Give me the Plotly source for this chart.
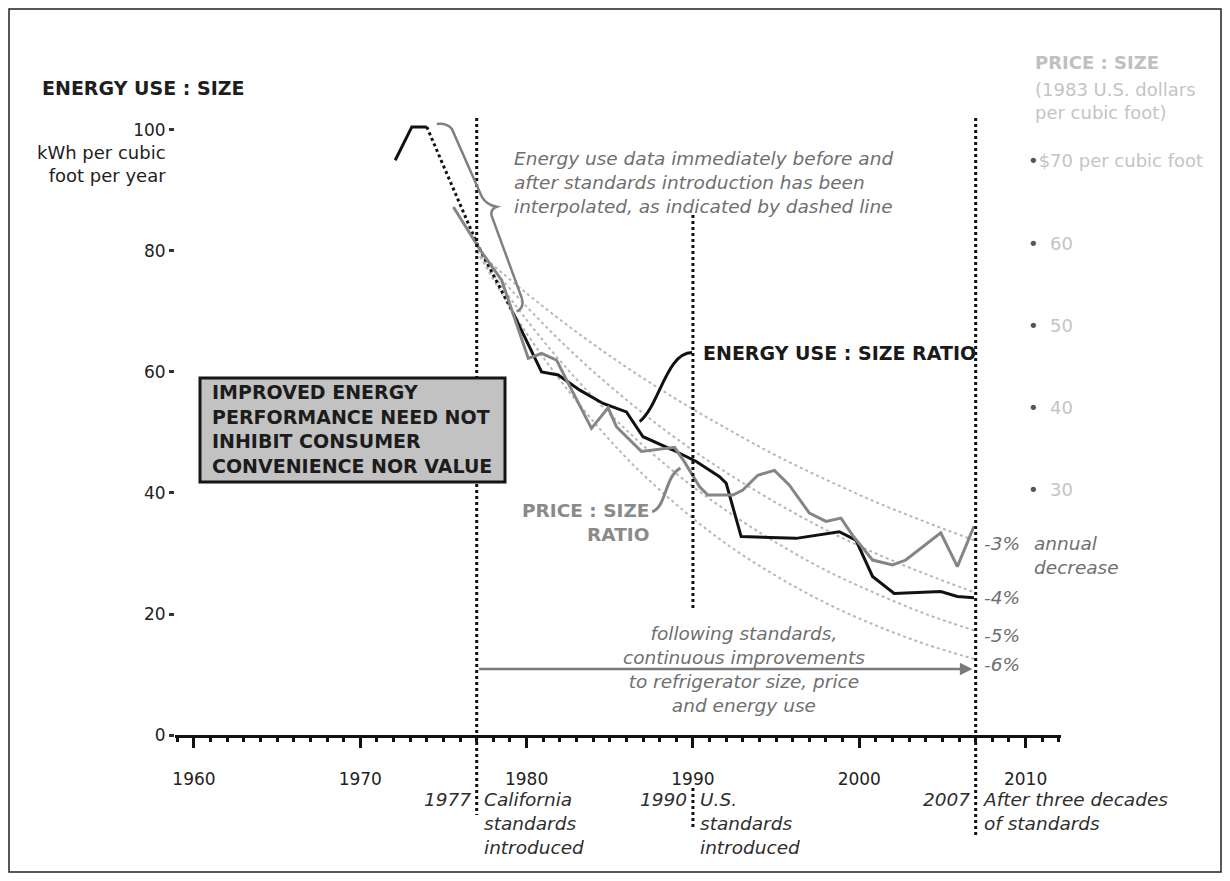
import plotly.graph_objects as go

# ---------------- data ----------------
energy_early_years = [1972.1, 1973.1, 1974.0]
energy_early_values = [95.0, 100.5, 100.5]

energy_interp_years = [1974.0, 1975.5, 1977.0, 1979.2]
energy_interp_values = [100.5, 91.0, 81.3, 69.7]

energy_years = [1979.2, 1980.9, 1981.9, 1983.2, 1984.6, 1986.0, 1987.0, 1988.8,
                1990.2, 1991.6, 1992.0, 1992.9, 1996.2, 1998.8, 1999.8, 2000.8,
                2002.1, 2004.9, 2005.9, 2006.9]
energy_values = [69.7, 60.0, 59.5, 57.0, 54.8, 53.4, 49.3, 47.1,
                 45.2, 42.7, 41.6, 32.8, 32.5, 33.6, 32.2, 26.2,
                 23.4, 23.7, 22.9, 22.7]

price_years = [1975.6, 1977.2, 1978.5, 1980.1, 1980.9, 1981.8, 1982.5, 1983.9,
               1984.9, 1985.4, 1986.9, 1987.8, 1988.9, 1989.5, 1990.4, 1990.9,
               1992.4, 1993.0, 1993.9, 1994.9, 1995.8, 1997.0, 1998.0, 1998.9,
               1999.6, 2000.8, 2002.0, 2002.8, 2004.9, 2005.9, 2006.9]
price_values = [64.4, 59.2, 55.5, 46.0, 46.6, 45.8, 43.0, 37.5,
                40.0, 37.7, 34.7, 34.9, 35.2, 33.4, 30.4, 29.4,
                29.4, 30.0, 31.8, 32.4, 30.6, 27.2, 26.2, 26.6,
                24.5, 21.5, 20.9, 21.5, 24.8, 20.7, 25.6]

trend_years = [1977, 1980, 1983, 1986, 1989, 1992, 1995, 1998, 2001, 2004, 2007]
trend_3pct = [80, 73.0, 66.6, 60.8, 55.5, 50.7, 46.2, 42.2, 38.5, 35.2, 32.1]
trend_4pct = [80, 70.8, 62.6, 55.4, 49.0, 43.4, 38.4, 33.9, 30.0, 26.6, 23.5]
trend_5pct = [80, 68.6, 58.8, 50.4, 43.2, 37.1, 31.8, 27.2, 23.4, 20.0, 17.2]
trend_6pct = [80, 66.4, 55.2, 45.8, 38.1, 31.6, 26.3, 21.8, 18.1, 15.0, 12.5]
trend_labels = ["-3%", "-4%", "-5%", "-6%"]
trend_label_values = [31.7, 22.8, 16.5, 11.6]

x_tick_years = [1960, 1970, 1980, 1990, 2000, 2010]
energy_ticks = [0, 20, 40, 60, 80, 100]
price_ticks = [30, 40, 50, 60, 70]
price_tick_labels = ["  30", "  40", "  50", "  60", "$70 per cubic foot"]

standard_years = [1977, 1990, 2007]

# ---------------- layout helpers ----------------
FONT = "DejaVu Sans"
OFF = 8                      # page body margin
FIG_W, FIG_H = 1230 - 2 * OFF, 881 - 2 * OFF
L, R, T, B = 175, 1061, 80, 735   # plot area in screenshot pixels


def px(p):
    return (p - L) / (R - L)


def py(p):
    return (B - p) / (B - T)


fig = go.Figure()

trend_sets = [trend_3pct, trend_4pct, trend_5pct, trend_6pct]
for vals in trend_sets:
    fig.add_trace(go.Scatter(x=trend_years, y=vals, mode="lines",
                             line=dict(color="#b8b8b8", width=2, dash="dot", shape="spline"),
                             hoverinfo="skip", showlegend=False))

fig.add_trace(go.Scatter(x=price_years, y=price_values, yaxis="y2", mode="lines",
                         line=dict(color="#858585", width=3), showlegend=False))

fig.add_trace(go.Scatter(x=energy_early_years, y=energy_early_values, mode="lines",
                         line=dict(color="#111111", width=3), showlegend=False))
fig.add_trace(go.Scatter(x=energy_interp_years, y=energy_interp_values, mode="lines",
                         line=dict(color="#111111", width=3, dash="dot"), showlegend=False))
fig.add_trace(go.Scatter(x=energy_years, y=energy_values, mode="lines",
                         line=dict(color="#111111", width=3), showlegend=False))

shapes = []
# vertical dotted lines for standards
seg = {1977: [(118, 815)], 1990: [(215, 610), (788, 830)], 2007: [(118, 835)]}
for yr in standard_years:
    for a, b in seg[yr]:
        shapes.append(dict(type="line", xref="x", yref="paper", x0=yr, x1=yr,
                           y0=py(a), y1=py(b), line=dict(color="#111111", width=3, dash="dot")))

# message box
shapes.append(dict(type="rect", xref="paper", yref="paper", x0=px(200), x1=px(505),
                   y0=py(482), y1=py(378), fillcolor="#c2c2c2",
                   line=dict(color="#151515", width=3)))

# curly brace for interpolated segment
shapes.append(dict(type="path", xref="x", yref="y",
                   path="M 1974.6,101.0 Q 1975.2,101.2 1975.5,100.2 L 1977.3,89.0 "
                        "Q 1977.6,87.6 1978.2,87.3 Q 1977.8,86.9 1977.9,85.8 "
                        "L 1979.7,72.3 Q 1979.9,70.6 1979.4,70.0",
                   line=dict(color="#808080", width=2.5)))
# callout energy
shapes.append(dict(type="path", xref="x", yref="y",
                   path="M 1986.8,51.8 C 1988.0,54.5 1988.4,63.2 1989.95,63.2",
                   line=dict(color="#111111", width=3)))
# callout price
shapes.append(dict(type="path", xref="x", yref="y",
                   path="M 1987.55,36.9 C 1988.4,37.6 1988.3,42.8 1989.25,44.1",
                   line=dict(color="#858585", width=3)))
# frame around the whole picture
shapes.append(dict(type="rect", xref="paper", yref="paper", x0=px(9), x1=px(1221),
                   y0=py(872), y1=py(9), line=dict(color="#222222", width=1.5)))

ann = []
ital = "#6f6f6f"
ann.append(dict(text="<b>ENERGY USE : SIZE</b>", xref="paper", yref="paper",
                x=px(40), y=py(88), xanchor="left", yanchor="middle",
                font=dict(size=19, color="#1e1e1e"), showarrow=False))
ann.append(dict(text="kWh per cubic<br>foot per year", xref="paper", yref="paper",
                x=px(168), y=py(140), xanchor="right", yanchor="top", align="right",
                font=dict(size=18, color="#1e1e1e"), showarrow=False))
ann.append(dict(text="<b>PRICE : SIZE</b>", xref="paper", yref="paper",
                x=px(1033), y=py(63), xanchor="left", yanchor="middle",
                font=dict(size=18, color="#c0c0c0"), showarrow=False))
ann.append(dict(text="(1983 U.S. dollars<br>per cubic foot)", xref="paper", yref="paper",
                x=px(1033), y=py(77), xanchor="left", yanchor="top", align="left",
                font=dict(size=18, color="#c4c4c4"), showarrow=False))
ann.append(dict(text="<i>Energy use data immediately before and<br>after standards introduction has been"
                     "<br>interpolated, as indicated by dashed line</i>",
                xref="paper", yref="paper", x=px(512), y=py(146), xanchor="left", yanchor="top",
                align="left", font=dict(size=18.5, color=ital), showarrow=False))
ann.append(dict(text="<b>ENERGY USE : SIZE RATIO</b>", xref="x", yref="y",
                x=1990.5, y=63.1, xanchor="left", yanchor="middle",
                font=dict(size=19, color="#1a1a1a"), showarrow=False))
ann.append(dict(text="<b>PRICE : SIZE<br>RATIO</b>", xref="x", yref="y",
                x=1987.45, y=35.2, xanchor="right", yanchor="middle", align="right",
                font=dict(size=18.5, color="#8a8a8a"), showarrow=False))
ann.append(dict(text="<b>IMPROVED ENERGY<br>PERFORMANCE NEED NOT<br>INHIBIT CONSUMER"
                     "<br>CONVENIENCE NOR VALUE</b>",
                xref="paper", yref="paper", x=px(210), y=py(429), xanchor="left",
                yanchor="middle", align="left", font=dict(size=19, color="#1c1c1c"),
                showarrow=False))
# arrow
ann.append(dict(text="", xref="x", yref="y", x=2006.8, y=10.9, ax=1977.05, ay=10.9,
                axref="x", ayref="y", showarrow=True, arrowhead=2, arrowsize=1,
                arrowwidth=2.5, arrowcolor="#7a7a7a"))
ann.append(dict(text="<i>following standards,<br>continuous improvements<br>"
                     "to refrigerator size, price<br>and energy use</i>",
                xref="x", yref="y", x=1993.1, y=10.9, xanchor="center", yanchor="middle",
                align="center", font=dict(size=18.5, color=ital), showarrow=False))
for lab, v in zip(trend_labels, trend_label_values):
    ann.append(dict(text="<i>" + lab + "</i>", xref="x", yref="y", x=2007, y=v,
                    xanchor="left", yanchor="middle", xshift=6,
                    font=dict(size=18.5, color=ital), showarrow=False))
ann.append(dict(text="<i>annual<br>decrease</i>", xref="paper", yref="paper",
                x=px(1032), y=py(555), xanchor="left", yanchor="middle", align="left",
                font=dict(size=18.5, color=ital), showarrow=False))
bottom = {1977: "California<br>standards<br>introduced",
          1990: "U.S.<br>standards<br>introduced",
          2007: "After three decades<br>of standards"}
for yr in standard_years:
    ann.append(dict(text="<i>%d</i>" % yr, xref="x", yref="paper", x=yr, y=py(787),
                    xanchor="right", yanchor="top", xshift=-4,
                    font=dict(size=18.5, color="#2e2e2e"), showarrow=False))
    ann.append(dict(text="<i>" + bottom[yr] + "</i>", xref="x", yref="paper", x=yr, y=py(787),
                    xanchor="left", yanchor="top", align="left", xshift=5,
                    font=dict(size=18.5, color="#2e2e2e"), showarrow=False))

price_text = ["<span style='color:#555555'>•</span>" + t.replace(" ", "&nbsp;") if t.startswith(" ")
              else "<span style='color:#555555'>•</span>" + t for t in price_tick_labels]

fig.update_layout(
    width=FIG_W, height=FIG_H,
    margin=dict(l=L - OFF, r=FIG_W - (R - OFF), t=T - OFF, b=FIG_H - (B - OFF)),
    paper_bgcolor="white", plot_bgcolor="white",
    font=dict(family=FONT, color="#222222"),
    showlegend=False,
    xaxis=dict(range=[1958.86, 2012.13], tickvals=x_tick_years, ticks="outside",
               ticklen=10, tickwidth=2.5, tickcolor="#111111", showline=True,
               linewidth=3, linecolor="#111111", showgrid=False, zeroline=False,
               tickfont=dict(size=17, color="#222222"), ticklabelstandoff=17,
               minor=dict(dtick=1, ticks="outside", ticklen=4, tickwidth=2.5,
                          tickcolor="#111111", showgrid=False)),
    yaxis=dict(range=[0, 108.26], tickvals=energy_ticks, ticks="outside", ticklen=5,
               tickwidth=3, tickcolor="#333333", showline=False, showgrid=False,
               zeroline=False, tickfont=dict(size=17, color="#222222")),
    yaxis2=dict(overlaying="y", side="right", anchor="free", position=px(1027),
                range=[0.24, 79.83], tickvals=price_ticks, ticktext=price_text,
                ticks="", showline=False, showgrid=False, zeroline=False,
                tickfont=dict(size=18, color="#c4c4c4")),
    shapes=shapes, annotations=ann,
)

fig.write_html("out.html")
